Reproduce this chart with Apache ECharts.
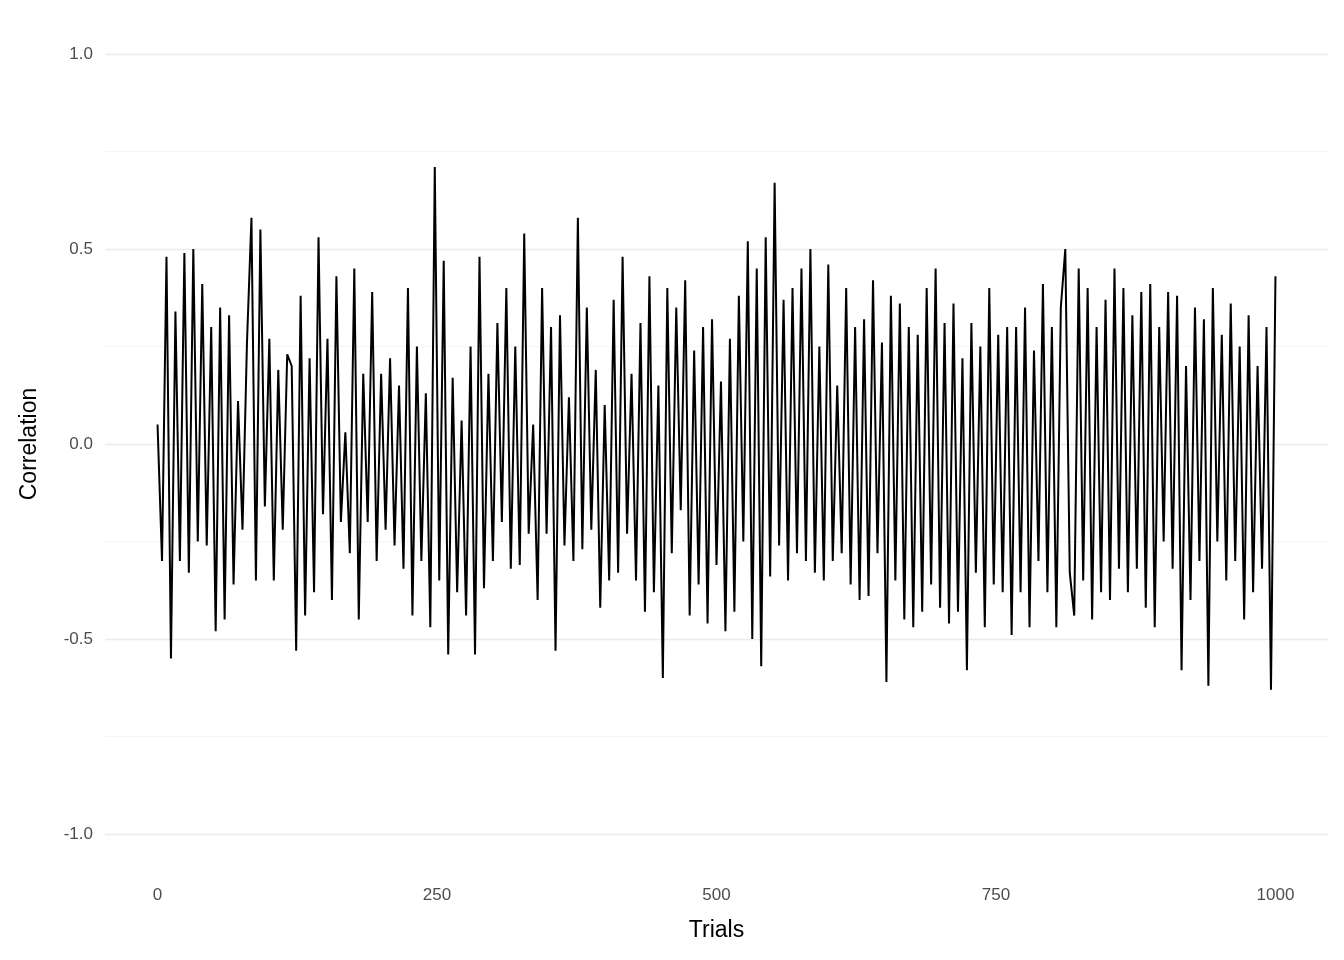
<!DOCTYPE html>
<html>
<head>
<meta charset="utf-8">
<script src="https://cdn.jsdelivr.net/npm/echarts@6/dist/echarts.min.js"></script>
<style>html,body{margin:0;background:#fff}#chart{width:1344px;height:960px}</style>
</head>
<body>
<div id="chart"></div>
<script>
// trial step between the read-off values
const TRIAL_STEP = 4;
const correlation = [
  0.05,-0.30,0.48,-0.55,0.34,-0.30,0.49,-0.33,0.50,-0.25,
  0.41,-0.26,0.30,-0.48,0.35,-0.45,0.33,-0.36,0.11,-0.22,
  0.26,0.58,-0.35,0.55,-0.16,0.27,-0.35,0.19,-0.22,0.23,
  0.20,-0.53,0.38,-0.44,0.22,-0.38,0.53,-0.18,0.27,-0.40,
  0.43,-0.20,0.03,-0.28,0.45,-0.45,0.18,-0.20,0.39,-0.30,
  0.18,-0.22,0.22,-0.26,0.15,-0.32,0.40,-0.44,0.25,-0.30,
  0.13,-0.47,0.71,-0.35,0.47,-0.54,0.17,-0.38,0.06,-0.44,
  0.25,-0.54,0.48,-0.37,0.18,-0.30,0.31,-0.20,0.40,-0.32,
  0.25,-0.31,0.54,-0.23,0.05,-0.40,0.40,-0.23,0.30,-0.53,
  0.33,-0.26,0.12,-0.30,0.58,-0.27,0.35,-0.22,0.19,-0.42,
  0.10,-0.35,0.37,-0.33,0.48,-0.23,0.18,-0.35,0.31,-0.43,
  0.43,-0.38,0.15,-0.60,0.40,-0.28,0.35,-0.17,0.42,-0.44,
  0.24,-0.36,0.30,-0.46,0.32,-0.31,0.16,-0.48,0.27,-0.43,
  0.38,-0.25,0.52,-0.50,0.45,-0.57,0.53,-0.34,0.67,-0.26,
  0.37,-0.35,0.40,-0.28,0.45,-0.30,0.50,-0.33,0.25,-0.35,
  0.46,-0.30,0.15,-0.28,0.40,-0.36,0.30,-0.40,0.32,-0.39,
  0.42,-0.28,0.26,-0.61,0.38,-0.35,0.36,-0.45,0.30,-0.47,
  0.28,-0.43,0.40,-0.36,0.45,-0.42,0.31,-0.46,0.36,-0.43,
  0.22,-0.58,0.31,-0.33,0.25,-0.47,0.40,-0.36,0.28,-0.38,
  0.30,-0.49,0.30,-0.38,0.35,-0.47,0.24,-0.30,0.41,-0.38,
  0.30,-0.47,0.35,0.50,-0.33,-0.44,0.45,-0.35,0.40,-0.45,
  0.30,-0.38,0.37,-0.40,0.45,-0.32,0.40,-0.38,0.33,-0.32,
  0.39,-0.42,0.41,-0.47,0.30,-0.25,0.39,-0.32,0.38,-0.58,
  0.20,-0.40,0.35,-0.30,0.32,-0.62,0.40,-0.25,0.28,-0.35,
  0.36,-0.30,0.25,-0.45,0.33,-0.38,0.20,-0.32,0.30,-0.63,
  0.43
];
const xTicks = [0, 250, 500, 750, 1000];
const yTicks = [-1, -0.5, 0, 0.5, 1];
const yMinor = [-0.75, -0.25, 0.25, 0.75];

const points = correlation.map((v, i) => [i * TRIAL_STEP, v]);

const gridLines = yTicks.map(v => ({ yAxis: v, lineStyle: { color: '#ebebeb', width: 1.4, type: 'solid' } }))
  .concat(yMinor.map(v => ({ yAxis: v, lineStyle: { color: '#f2f2f2', width: 0.8, type: 'solid' } })));

const chart = echarts.init(document.getElementById('chart'));
chart.setOption({
  animation: false,
  grid: { left: 105, right: 16, top: 15, bottom: 87 },
  xAxis: {
    type: 'value', min: -47, max: 1047,
    name: 'Trials', nameLocation: 'middle', nameGap: 46,
    nameTextStyle: { color: '#000', fontSize: 23, fontFamily: 'Arial, Liberation Sans' },
    axisLine: { show: false }, axisTick: { show: false }, splitLine: { show: false },
    axisLabel: { customValues: xTicks, formatter: v => String(v), color: '#4d4d4d', fontSize: 17, fontFamily: 'Arial, Liberation Sans', margin: 14 }
  },
  yAxis: {
    type: 'value', min: -1.1, max: 1.1,
    name: 'Correlation', nameLocation: 'middle', nameGap: 64,
    nameTextStyle: { color: '#000', fontSize: 23, fontFamily: 'Arial, Liberation Sans' },
    axisLine: { show: false }, axisTick: { show: false }, splitLine: { show: false },
    axisLabel: { customValues: yTicks, formatter: v => v.toFixed(1), color: '#4d4d4d', fontSize: 17, fontFamily: 'Arial, Liberation Sans', margin: 12 }
  },
  series: [{
    type: 'line', data: points, showSymbol: false,
    lineStyle: { color: '#000', width: 2 },
    markLine: { silent: true, symbol: 'none', label: { show: false }, data: gridLines, z: 0 },
    z: 5
  }]
});
</script>
</body>
</html>
